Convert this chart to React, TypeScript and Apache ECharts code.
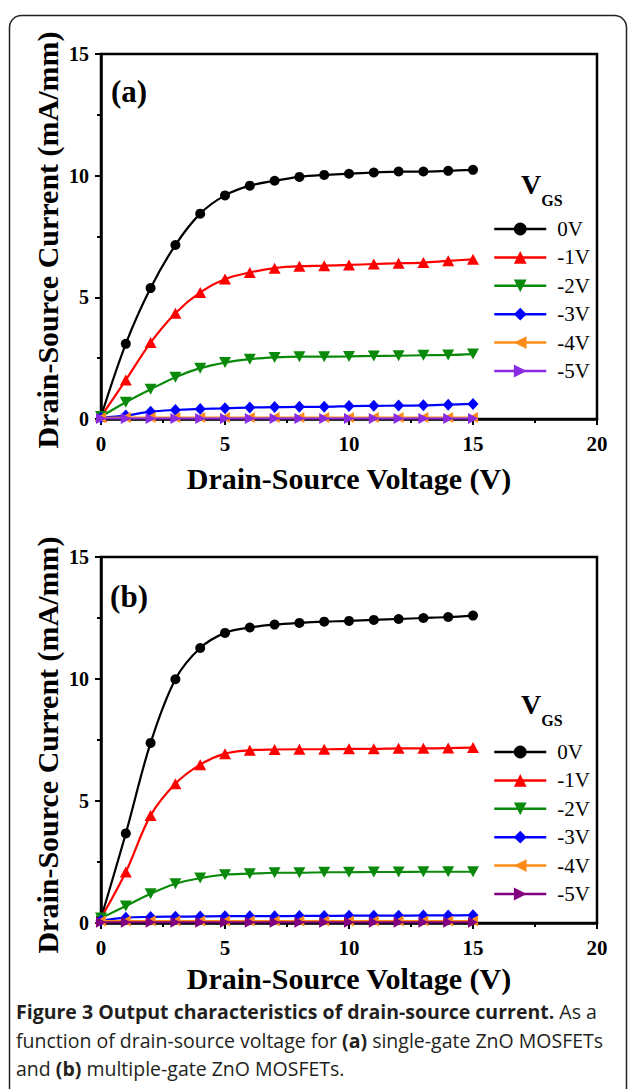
import React, { useEffect, useRef } from 'react';
import * as echarts from 'echarts';

// ---- data ----
const voltages = [0, 1, 2, 3, 4, 5, 6, 7, 8, 9, 10, 11, 12, 13, 14, 15];
const gateLabels = ['0V', '-1V', '-2V', '-3V', '-4V', '-5V'];
const xTicks = [0, 5, 10, 15, 20];
const yTicks = [0, 5, 10, 15];

// (a) single-gate
const a0V = [0.1, 3.09, 5.38, 7.15, 8.44, 9.19, 9.59, 9.79, 9.95, 10.03, 10.08, 10.13, 10.17, 10.17, 10.2, 10.24];
const a1V = [0.1, 1.6, 3.14, 4.35, 5.2, 5.75, 6.02, 6.2, 6.28, 6.3, 6.33, 6.37, 6.4, 6.43, 6.5, 6.56];
const a2V = [0.1, 0.69, 1.22, 1.72, 2.09, 2.32, 2.46, 2.53, 2.56, 2.56, 2.57, 2.59, 2.6, 2.62, 2.63, 2.67];
const a3V = [0.05, 0.14, 0.3, 0.37, 0.41, 0.44, 0.47, 0.49, 0.5, 0.5, 0.53, 0.54, 0.55, 0.56, 0.59, 0.62];
const a4V = [0.05, 0.06, 0.06, 0.06, 0.06, 0.06, 0.06, 0.06, 0.06, 0.06, 0.06, 0.06, 0.06, 0.06, 0.06, 0.06];
const a5V = [0.02, 0.02, 0.02, 0.02, 0.02, 0.02, 0.02, 0.02, 0.02, 0.02, 0.02, 0.02, 0.02, 0.02, 0.02, 0.02];

// (b) multiple-gate
const b0V = [0.2, 3.67, 7.38, 9.99, 11.27, 11.89, 12.11, 12.23, 12.3, 12.35, 12.38, 12.42, 12.46, 12.5, 12.54, 12.6];
const b1V = [0.2, 2.09, 4.41, 5.71, 6.49, 6.94, 7.08, 7.11, 7.12, 7.12, 7.14, 7.14, 7.16, 7.16, 7.17, 7.19];
const b2V = [0.2, 0.7, 1.2, 1.61, 1.84, 1.98, 2.02, 2.06, 2.06, 2.08, 2.08, 2.09, 2.09, 2.1, 2.1, 2.1];
const b3V = [0.1, 0.22, 0.25, 0.26, 0.27, 0.28, 0.28, 0.28, 0.29, 0.29, 0.3, 0.3, 0.3, 0.31, 0.31, 0.32];
const b4V = [0.08, 0.08, 0.08, 0.08, 0.08, 0.08, 0.08, 0.08, 0.08, 0.08, 0.08, 0.08, 0.08, 0.08, 0.08, 0.08];
const b5V = [0.03, 0.03, 0.03, 0.03, 0.03, 0.03, 0.03, 0.03, 0.03, 0.03, 0.03, 0.03, 0.03, 0.03, 0.03, 0.03];

const seriesA = [a0V, a1V, a2V, a3V, a4V, a5V];
const seriesB = [b0V, b1V, b2V, b3V, b4V, b5V];

const colorsA = ['#000000', '#ff0000', '#0a8a0a', '#0000ff', '#ff8c1a', '#8a2be2'];
const colorsB = ['#000000', '#ff0000', '#0a8a0a', '#0000ff', '#ff8c1a', '#800080'];
const symbols = [
  'circle',
  'triangle',
  'path://M0,0L10,0L5,9Z',
  'diamond',
  'path://M9,0L9,10L0,5Z',
  'path://M0,0L0,10L9,5Z',
];
const symbolSizes: any[] = [10, [12, 11], [12, 11], [11, 12], [10, 11], [10, 11]];

const SERIF = '"Liberation Serif", "Times New Roman", serif';
const SANS = '"Open Sans", "Noto Sans", sans-serif';

const GRID_A = { left: 101, top: 54, width: 496, height: 365 };
const GRID_B = { left: 101, top: 557, width: 496, height: 366 };

function axisCommon() {
  return {
    axisLine: { show: true, onZero: false, lineStyle: { color: '#000', width: 2.5 } },
    axisTick: { show: true, inside: false, length: 6, lineStyle: { color: '#000', width: 2 } },
    minorTick: { show: true, splitNumber: 2, length: 4, lineStyle: { color: '#000', width: 2 } },
    splitLine: { show: false },
    minorSplitLine: { show: false },
  };
}

export default function App() {
  const ref = useRef<HTMLDivElement>(null);

  useEffect(() => {
    if (!ref.current) return;
    const chart = echarts.init(ref.current, undefined, { renderer: 'svg' });

    const makeSeries = (prefix: string, sets: number[][], colors: string[], idx: number) =>
      sets.map((vals, i) => ({
        type: 'line',
        name: prefix + gateLabels[i],
        xAxisIndex: idx,
        yAxisIndex: idx,
        data: voltages.map((v, k) => [v, vals[k]]),
        smooth: 0.35,
        symbol: symbols[i],
        symbolSize: symbolSizes[i],
        showSymbol: true,
        lineStyle: { color: colors[i], width: 2.2 },
        itemStyle: { color: colors[i] },
        emphasis: { disabled: true },
        z: 3 + i,
      }));

    const legendCommon = {
      orient: 'vertical',
      itemWidth: 52,
      itemHeight: 16,
      itemGap: 4.4,
      selectedMode: false,
      formatter: (n: string) => n.slice(2),
      lineStyle: { width: 2.5 },
      textStyle: { fontFamily: SERIF, fontSize: 21, color: '#000', lineHeight: 24, padding: [0, 0, 0, 6] },
    };

    const xAxisOf = (gi: number) => ({
      type: 'value',
      gridIndex: gi,
      min: xTicks[0],
      max: xTicks[xTicks.length - 1],
      interval: xTicks[1] - xTicks[0],
      ...axisCommon(),
      axisLabel: { margin: 14, fontFamily: SERIF, fontWeight: 'bold', fontSize: 21, color: '#000' },
    });
    const yAxisOf = (gi: number) => ({
      type: 'value',
      gridIndex: gi,
      min: yTicks[0],
      max: yTicks[yTicks.length - 1],
      interval: yTicks[1] - yTicks[0],
      ...axisCommon(),
      axisLabel: { margin: 12, fontFamily: SERIF, fontWeight: 'bold', fontSize: 20, color: '#000' },
    });

    const titleText = (text: string, x: number, y: number, rot = 0) => ({
      type: 'text',
      x,
      y,
      rotation: rot,
      style: {
        text,
        fontFamily: SERIF,
        fontWeight: 'bold',
        fontSize: 30,
        fill: '#000',
        align: 'center',
        verticalAlign: 'middle',
      },
    });

    const boldSerif = (text: string, x: number, y: number, size: number) => ({
      type: 'text',
      x,
      y,
      style: { text, fontFamily: SERIF, fontWeight: 'bold', fontSize: size, fill: '#000', align: 'center', verticalAlign: 'middle' },
    });

    const rich = {
      b: { fontFamily: SANS, fontWeight: 'bold', fontSize: 19.5, fill: '#231f20', color: '#231f20' },
      n: { fontFamily: SANS, fontWeight: 'normal', fontSize: 19.5, fill: '#231f20', color: '#231f20' },
    };
    const captionLine = (text: string, y: number) => ({
      type: 'text',
      x: 16,
      y,
      style: { text, rich, fontFamily: SANS, fontSize: 19.5, fill: '#231f20', align: 'left', verticalAlign: 'middle' },
    });

    chart.setOption({
      animation: false,
      backgroundColor: '#fff',
      grid: [
        { ...GRID_A, show: true, borderColor: '#000', borderWidth: 2.5, containLabel: false },
        { ...GRID_B, show: true, borderColor: '#000', borderWidth: 2.5, containLabel: false },
      ],
      xAxis: [xAxisOf(0), xAxisOf(1)],
      yAxis: [yAxisOf(0), yAxisOf(1)],
      legend: [
        { ...legendCommon, data: gateLabels.map((g) => 'a:' + g), left: 488, top: 212 },
        { ...legendCommon, data: gateLabels.map((g) => 'b:' + g), left: 488, top: 735 },
      ],
      series: [...makeSeries('a:', seriesA, colorsA, 0), ...makeSeries('b:', seriesB, colorsB, 1)],
      graphic: [
        {
          type: 'rect',
          shape: { x: 9.5, y: 15.5, width: 617, height: 1200, r: 12 },
          style: { fill: 'none', stroke: '#222', lineWidth: 1.5 },
          silent: true,
        },
        boldSerif('(a)', 129, 91, 31),
        boldSerif('(b)', 129, 596, 31),
        boldSerif('V', 531, 184, 28),
        boldSerif('GS', 552, 200, 16),
        boldSerif('V', 531, 704, 28),
        boldSerif('GS', 552, 720, 16),
        titleText('Drain-Source Current (mA/mm)', 47, 240, Math.PI / 2),
        titleText('Drain-Source Current (mA/mm)', 47, 745, Math.PI / 2),
        titleText('Drain-Source Voltage (V)', 349, 478),
        titleText('Drain-Source Voltage (V)', 349, 978),
        captionLine('{b|Figure 3 Output characteristics of drain-source current.}{n| As a}', 1011),
        captionLine('{n|function of drain-source voltage for }{b|(a)}{n| single-gate ZnO MOSFETs}', 1040),
        captionLine('{n|and }{b|(b)}{n| multiple-gate ZnO MOSFETs.}', 1068),
      ],
    });

    return () => chart.dispose();
  }, []);

  return <div ref={ref} style={{ position: 'absolute', left: 0, top: 0, width: 629, height: 1089 }} />;
}
